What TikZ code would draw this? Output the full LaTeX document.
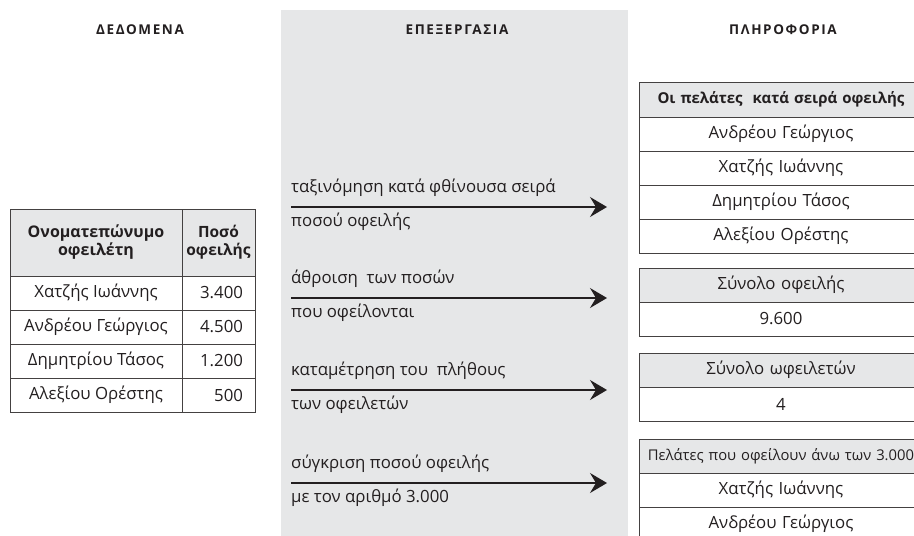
\documentclass[tikz,border=0pt]{standalone}
\usepackage{fontspec}
\setmainfont{Open Sans}
\newfontfamily\headfont{Open Sans}[LetterSpace=12]
\usetikzlibrary{arrows.meta}

\definecolor{bandgray}{HTML}{E6E7E8}
\definecolor{ink}{HTML}{231F20}

\tikzset{
  cell/.style={draw=ink!85, line width=0.8pt, minimum height=34pt, inner sep=0pt,
    font=\fontsize{16.8}{18}\selectfont, text=ink},
  headcell/.style={cell, fill=bandgray},
  rcell/.style={cell, text width=284pt, align=center},
  title/.style={font=\headfont\bfseries\fontsize{13.5}{15}\selectfont, text=ink},
  proc/.style={-{Stealth[length=17pt,width=20pt,inset=6pt]}, line width=1.3pt, draw=ink},
  lbl/.style={font=\fontsize{16.8}{18}\selectfont, text=ink, inner sep=0pt, anchor=base west}
}

\begin{document}
\begin{tikzpicture}[x=1pt,y=-1pt]
  \useasboundingbox (0,0) rectangle (914,536);
  \clip (0,0) rectangle (914,536);

  % Processing band
  \fill[bandgray] (281,10) rectangle (628,540);

  % Titles
  \node[title] (tData) at (140,30) {ΔΕΔΟΜΕΝΑ};
  \node[title] (tProc) at (457,30) {ΕΠΕΞΕΡΓΑΣΙΑ};
  \node[title] (tInfo) at (783,30) {ΠΛΗΡΟΦΟΡΙΑ};

  % Data table
  \node[headcell, minimum width=172pt, minimum height=67pt, align=center, font=\bfseries\fontsize{16}{18}\selectfont]
    (hName) at (96,242.5) {Ονοματεπώνυμο\\οφειλέτη};
  \node[headcell, minimum width=73pt, minimum height=67pt, align=center, font=\bfseries\fontsize{15.5}{18}\selectfont]
    (hAmount) at (218.5,242.5) {Ποσό\\οφειλής};
  \node[cell, minimum width=172pt] (n1) at (96,293) {Χατζής Ιωάννης};
  \node[cell, minimum width=172pt] (n2) at (96,327) {Ανδρέου Γεώργιος};
  \node[cell, minimum width=172pt] (n3) at (96,361) {Δημητρίου Τάσος};
  \node[cell, minimum width=172pt] (n4) at (96,395) {Αλεξίου Ορέστης};
  \node[cell, minimum width=73pt, text width=49pt, align=right] (v1) at (218.5,293) {3.400};
  \node[cell, minimum width=73pt, text width=49pt, align=right] (v2) at (218.5,327) {4.500};
  \node[cell, minimum width=73pt, text width=49pt, align=right] (v3) at (218.5,361) {1.200};
  \node[cell, minimum width=73pt, text width=49pt, align=right] (v4) at (218.5,395) {500};

  % Information tables
  \node[rcell, fill=bandgray, minimum height=35pt, font=\bfseries\fontsize{15}{18}\selectfont]
    (order) at (781,99.5) {Οι πελάτες\ \ κατά σειρά οφειλής};
  \node[rcell] (o1) at (781,134) {Ανδρέου Γεώργιος};
  \node[rcell] (o2) at (781,168) {Χατζής Ιωάννης};
  \node[rcell] (o3) at (781,202) {Δημητρίου Τάσος};
  \node[rcell] (o4) at (781,236) {Αλεξίου Ορέστης};

  \node[rcell, fill=bandgray] (sum) at (781,285) {Σύνολο οφειλής};
  \node[rcell] (sumV) at (781,319) {9.600};

  \node[rcell, fill=bandgray] (count) at (781,370) {Σύνολο ωφειλετών};
  \node[rcell] (countV) at (781,404) {4};

  \node[rcell, fill=bandgray, font=\fontsize{14.8}{18}\selectfont] (over) at (781,456) {Πελάτες που οφείλουν άνω των 3.000};
  \node[rcell] (over1) at (781,490) {Χατζής Ιωάννης};
  \node[rcell] (over2) at (781,524) {Ανδρέου Γεώργιος};

  % Arrows
  \coordinate (sortL) at (291,207);  \coordinate (sortR) at (607,207);
  \coordinate (sumL) at (291,298);   \coordinate (sumR) at (607,298);
  \coordinate (cntL) at (291,390);   \coordinate (cntR) at (607,390);
  \coordinate (cmpL) at (291,483);   \coordinate (cmpR) at (607,483);

  \draw[proc] (sortL) -- (sortR); % sorting
  \node[lbl] (sortA) at ([yshift=15pt]sortL) {ταξινόμηση κατά φθίνουσα σειρά};
  \node[lbl] (sortB) at ([yshift=-19pt]sortL) {ποσού οφειλής};

  \draw[proc] (sumL) -- (sumR); % sum
  \node[lbl] (sumA) at ([yshift=15pt]sumL) {άθροιση\ \ των ποσών};
  \node[lbl] (sumB) at ([yshift=-19pt]sumL) {που οφείλονται};

  \draw[proc] (cntL) -- (cntR); % count
  \node[lbl] (cntA) at ([yshift=15pt]cntL) {καταμέτρηση του\ \ πλήθους};
  \node[lbl] (cntB) at ([yshift=-19pt]cntL) {των οφειλετών};

  \draw[proc] (cmpL) -- (cmpR); % compare
  \node[lbl] (cmpA) at ([yshift=15pt]cmpL) {σύγκριση ποσού οφειλής};
  \node[lbl] (cmpB) at ([yshift=-19pt]cmpL) {με τον αριθμό 3.000};
\end{tikzpicture}
\end{document}
